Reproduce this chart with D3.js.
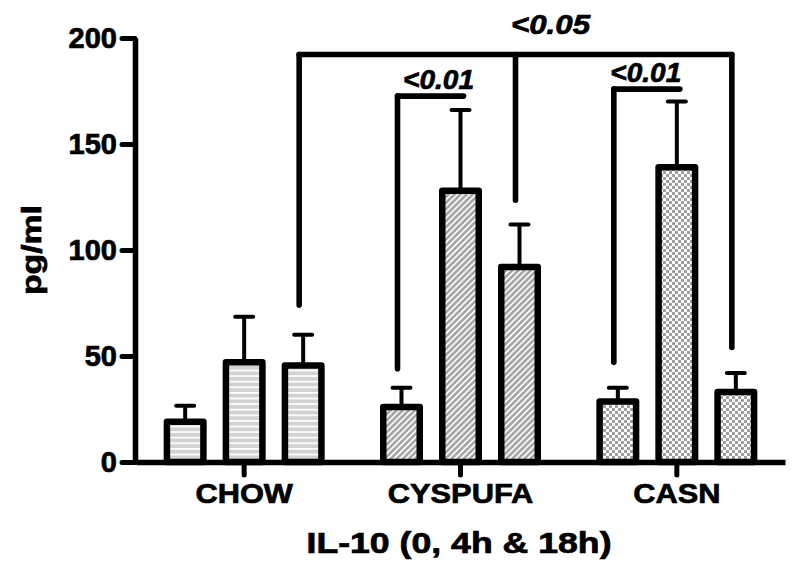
<!DOCTYPE html>
<html>
<head>
<meta charset="utf-8">
<script src="https://cdn.jsdelivr.net/npm/d3@7"></script>
<style>
  body { margin: 0; background: #fff; }
  svg { font-family: "Liberation Sans", Arial, sans-serif; font-weight: bold; }
  svg text { stroke: #000; stroke-width: 0.7px; }
</style>
</head>
<body>
<svg width="800" height="570"></svg>
<script>
// data (pg/ml, mean and SEM)
var categories = ["CHOW", "CYSPUFA", "CASN"];
var times = ["0h", "4h", "18h"];
var chowMean = [19, 47, 45.5],   chowErr = [7.5, 21.5, 14.5];
var cysMean  = [26, 128, 92],    cysErr  = [9, 38, 20];
var casnMean = [28.5, 139, 33],  casnErr = [6.5, 31, 9];
var yTicks = [0, 50, 100, 150, 200];

// significance brackets: legs [category, bar, bottom value], end of bar, level, label
var sigLabels = ["<0.05", "<0.01", "<0.01"];
var sigLevels = [192.2, 172.6, 175.9];
var sigLegs = [
  [["CHOW", 2, 74], ["CYSPUFA", 2, 123.5], ["CASN", 2, 54]],
  [["CYSPUFA", 0, 44]],
  [["CASN", 0, 47]]
];
var sigEnds = [["CASN", 2], ["CYSPUFA", 1], ["CASN", 1]];

var means = [chowMean, cysMean, casnMean],
    errs = [chowErr, cysErr, casnErr],
    fills = ["url(#stripes)", "url(#hatch)", "url(#checker)"];

var svg = d3.select("svg");

var x0 = d3.scaleBand().domain(categories).range([136, 785]),
    xi = d3.scalePoint().domain(d3.range(times.length)).range([-59, 59]),
    y = d3.scaleLinear().domain([0, 200]).range([462, 38]);

function cx(cat, i) { return x0(cat) + x0.bandwidth() / 2 + xi(i); }

// fill patterns
var defs = svg.append("defs");
var p1 = defs.append("pattern").attr("id", "stripes").attr("patternUnits", "userSpaceOnUse")
    .attr("width", 8).attr("height", 5.6);
p1.append("rect").attr("width", 8).attr("height", 5.6).attr("fill", "#d2d2d2");
p1.append("rect").attr("width", 8).attr("height", 1.7).attr("fill", "#fff");

var p2 = defs.append("pattern").attr("id", "hatch").attr("patternUnits", "userSpaceOnUse")
    .attr("width", 4.3).attr("height", 10).attr("patternTransform", "rotate(45)");
p2.append("rect").attr("width", 4.3).attr("height", 10).attr("fill", "#a6a6a6");
p2.append("rect").attr("width", 1.6).attr("height", 10).attr("fill", "#fff");

var p3 = defs.append("pattern").attr("id", "checker").attr("patternUnits", "userSpaceOnUse")
    .attr("width", 6).attr("height", 6);
p3.append("rect").attr("width", 6).attr("height", 6).attr("fill", "#fff");
p3.append("rect").attr("width", 3).attr("height", 3).attr("fill", "#a0a0a0");
p3.append("rect").attr("x", 3).attr("y", 3).attr("width", 3).attr("height", 3).attr("fill", "#a0a0a0");

// bars + error bars
var barW = 36.5;
categories.forEach(function (cat, c) {
  var g = svg.append("g");
  means[c].forEach(function (m, i) {
    var xc = cx(cat, i), top = m + errs[c][i];
    g.append("line")
      .attr("x1", xc).attr("x2", xc)
      .attr("y1", y(m)).attr("y2", y(top))
      .attr("stroke", "#000").attr("stroke-width", 4);
    g.append("line")
      .attr("x1", xc - 9).attr("x2", xc + 9)
      .attr("y1", y(top)).attr("y2", y(top))
      .attr("stroke", "#000").attr("stroke-width", 4).attr("stroke-linecap", "round");
    g.append("rect")
      .attr("x", xc - barW / 2).attr("width", barW)
      .attr("y", y(m)).attr("height", y(0) - y(m))
      .attr("fill", fills[c])
      .attr("stroke", "#000").attr("stroke-width", 6.5).attr("stroke-linejoin", "round");
  });
});

// axes
var yAxis = svg.append("g")
    .attr("transform", "translate(135,0)")
    .call(d3.axisLeft(y).tickValues(yTicks).tickSize(13).tickSizeOuter(0).tickPadding(5));
var xAxis = svg.append("g")
    .attr("transform", "translate(0," + y(0) + ")")
    .call(d3.axisBottom(x0).tickSize(13).tickSizeOuter(0).tickPadding(8));

svg.selectAll(".domain").attr("stroke", "#000").attr("stroke-width", 5.5);
svg.selectAll(".tick line").attr("stroke", "#000").attr("stroke-width", 5).attr("stroke-linecap", "round");
yAxis.selectAll("text").attr("font-size", 29).attr("fill", "#000").attr("font-family", null);
xAxis.selectAll("text").attr("font-size", 28).attr("fill", "#000").attr("font-family", null)
  .each(function () { this.setAttribute("textLength", this.getComputedTextLength() * 1.1); })
  .attr("lengthAdjust", "spacingAndGlyphs");

// significance brackets
var labelShift = [35, 8, -1];
sigLevels.forEach(function (lvl, k) {
  var legs = sigLegs[k],
      xs = legs.map(function (l) { return cx(l[0], l[1]) - 4; }),
      xEnd = k === 0 ? xs[xs.length - 1] : cx(sigEnds[k][0], sigEnds[k][1]) + 3,
      yl = y(lvl),
      g = svg.append("g").attr("stroke", "#000").attr("stroke-width", 5.6)
        .attr("stroke-linecap", "round").attr("fill", "none");
  g.append("line").attr("x1", xs[0]).attr("x2", xEnd).attr("y1", yl).attr("y2", yl);
  legs.forEach(function (l, j) {
    g.append("line").attr("x1", xs[j]).attr("x2", xs[j]).attr("y1", yl).attr("y2", y(l[2]));
  });
  svg.append("text")
    .attr("x", (xs[0] + xEnd) / 2 + labelShift[k])
    .attr("y", yl - (k === 0 ? 21 : 7))
    .attr("text-anchor", "middle")
    .attr("font-size", 28).attr("font-style", "italic")
    .attr("textLength", k === 0 ? 79 : 71).attr("lengthAdjust", "spacingAndGlyphs")
    .text(sigLabels[k]);
});

// axis titles
svg.append("text")
  .attr("transform", "translate(41,250) rotate(-90)")
  .attr("text-anchor", "middle")
  .attr("font-size", 28)
  .attr("textLength", 90).attr("lengthAdjust", "spacingAndGlyphs")
  .text("pg/ml");

svg.append("text")
  .attr("x", 459).attr("y", 553)
  .attr("text-anchor", "middle")
  .attr("font-size", 29)
  .attr("textLength", 305).attr("lengthAdjust", "spacingAndGlyphs")
  .text("IL-10 (0, 4h & 18h)");
</script>
</body>
</html>
